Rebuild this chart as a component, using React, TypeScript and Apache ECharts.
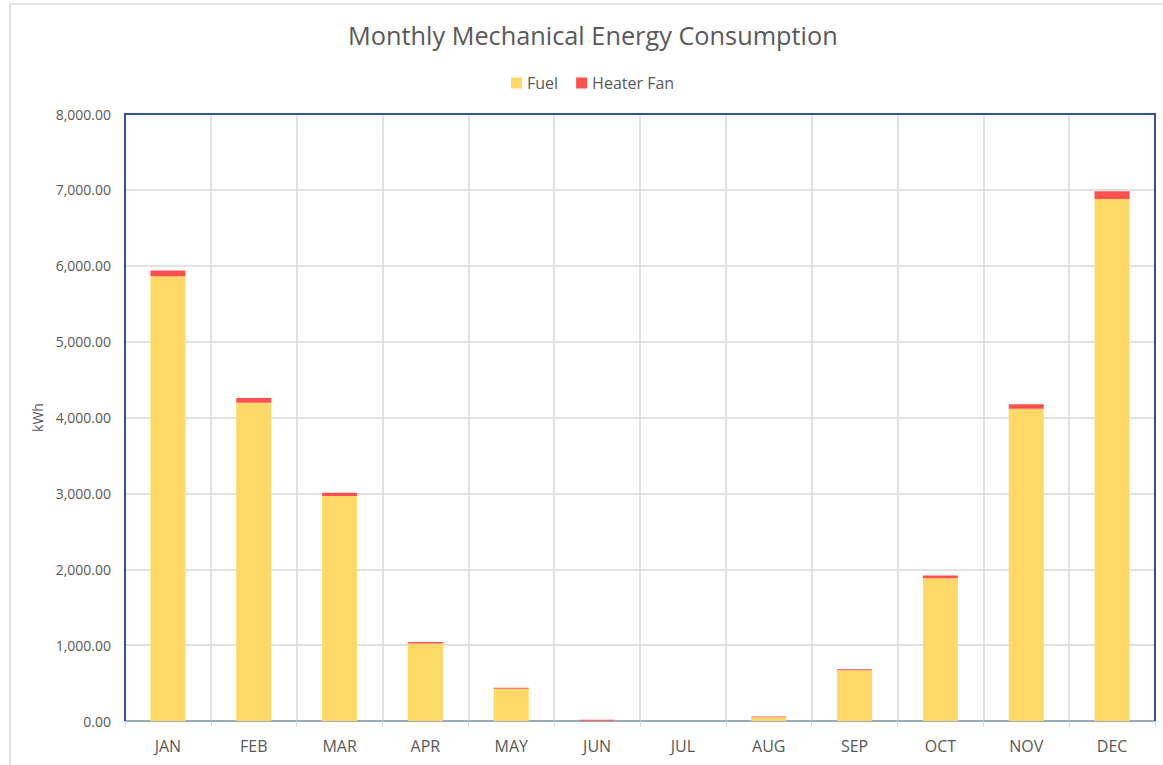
import React, { useEffect, useRef } from "react";
import * as echarts from "echarts";

const months = ["JAN", "FEB", "MAR", "APR", "MAY", "JUN", "JUL", "AUG", "SEP", "OCT", "NOV", "DEC"];
const fuel = [5860, 4195, 2965, 1020, 425, 3, 0, 48, 668, 1882, 4115, 6880];
const heaterFan = [78, 62, 42, 22, 12, 12, 0, 10, 15, 35, 60, 102];
const yTicks = { min: 0, max: 8000, interval: 1000 };

const FONT = "'Open Sans', 'Noto Sans', sans-serif";

const GL = 125;
const GT = 114;
const GR = 1155;
const GB = 721;

export default function App() {
  const ref = useRef<HTMLDivElement>(null);
  useEffect(() => {
    const chart = echarts.init(ref.current!, undefined, { renderer: "svg" });
    chart.setOption({
      animation: false,
      backgroundColor: "#ffffff",
      textStyle: { fontFamily: FONT },
      title: {
        text: "Monthly Mechanical Energy Consumption",
        left: 343,
        top: 17,
        textStyle: { fontFamily: FONT, fontSize: 25.3, fontWeight: "normal", color: "#595959" },
      },
      legend: {
        top: 70,
        left: 506,
        itemWidth: 11,
        itemHeight: 11,
        itemGap: 18,
        icon: "rect",
        textStyle: { fontFamily: FONT, fontSize: 16, color: "#595959" },
        data: ["Fuel", "Heater Fan"],
      },
      graphic: [
        {
          type: "rect",
          shape: { x: 10, y: 4, width: 1170, height: 780 },
          style: { fill: "none", stroke: "#d9d9d9", lineWidth: 1.5 },
          silent: true,
          z: -10,
        },
        {
          type: "polyline",
          shape: { points: [[GL, GB], [GL, GT], [GR, GT], [GR, GB]] },
          style: { fill: "none", stroke: "#2F5597", lineWidth: 2 },
          silent: true,
          z: 100,
        },
      ],
      grid: {
        left: GL,
        top: GT,
        right: 1163 - GR,
        bottom: 765 - GB,
        show: false,
        containLabel: false,
      },
      xAxis: {
        type: "category",
        data: months,
        boundaryGap: true,
        axisLine: { show: true, lineStyle: { color: "#8497B0", width: 1.5 } },
        axisTick: { show: true, alignWithLabel: false, length: 6, lineStyle: { color: "#d9d9d9" } },
        axisLabel: { color: "#595959", fontSize: 16, margin: 17, fontFamily: FONT },
        splitLine: { show: true, lineStyle: { color: "#d9d9d9", width: 1.5 } },
      },
      yAxis: {
        type: "value",
        min: yTicks.min,
        max: yTicks.max,
        interval: yTicks.interval,
        name: "kWh",
        nameLocation: "middle",
        nameGap: 78,
        nameTextStyle: { color: "#595959", fontSize: 14, fontFamily: FONT },
        axisLine: { show: false },
        axisTick: { show: false },
        axisLabel: {
          color: "#595959",
          fontSize: 14,
          margin: 14,
          fontFamily: FONT,
          formatter: (v: number) =>
            v.toLocaleString("en-US", { minimumFractionDigits: 2, maximumFractionDigits: 2 }),
        },
        splitLine: { show: true, lineStyle: { color: "#d9d9d9", width: 1.5 } },
      },
      series: [
        {
          name: "Fuel",
          type: "bar",
          stack: "total",
          data: fuel,
          barWidth: 35,
          itemStyle: { color: "#FFD966" },
        },
        {
          name: "Heater Fan",
          type: "bar",
          stack: "total",
          data: heaterFan,
          barWidth: 35,
          itemStyle: { color: "#FF5050" },
        },
      ],
    });
    return () => chart.dispose();
  }, []);
  return (
    <div
      ref={ref}
      style={{ position: "fixed", left: 0, top: 0, width: 1163, height: 765 }}
    />
  );
}
